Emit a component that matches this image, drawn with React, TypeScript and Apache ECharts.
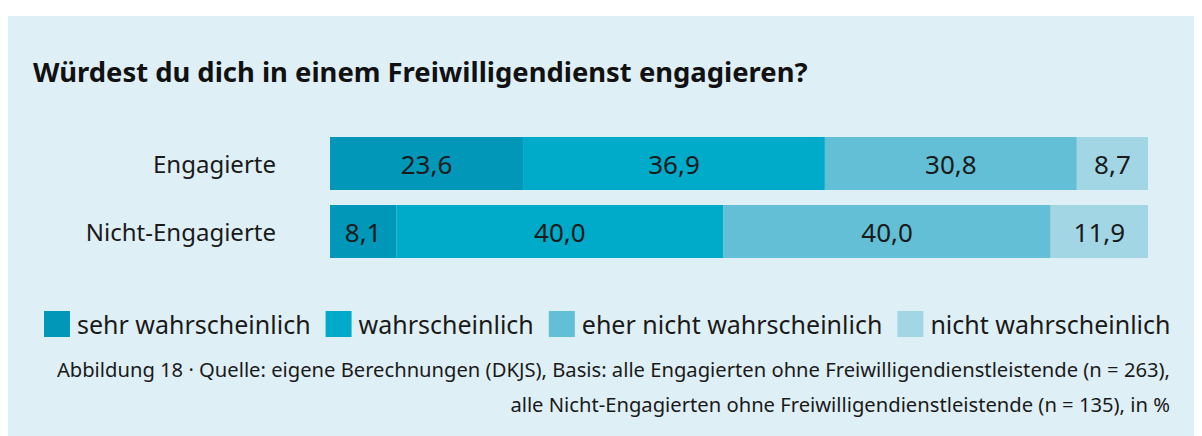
import React, { useEffect, useRef } from "react";
import * as echarts from "echarts";

const categories = ["Engagierte", "Nicht-Engagierte"];
const seriesNames = [
  "sehr wahrscheinlich",
  "wahrscheinlich",
  "eher nicht wahrscheinlich",
  "nicht wahrscheinlich",
];
const sehrWahrscheinlich = [23.6, 8.1];
const wahrscheinlich = [36.9, 40.0];
const eherNichtWahrscheinlich = [30.8, 40.0];
const nichtWahrscheinlich = [8.7, 11.9];
const colors = ["#0097b8", "#00aac9", "#62bfd6", "#a3d6e5"];

const titleText = "Würdest du dich in einem Freiwilligendienst engagieren?";
const noteLine1 =
  "Abbildung 18 · Quelle: eigene Berechnungen (DKJS), Basis: alle Engagierten ohne Freiwilligendienstleistende (n = 263),";
const noteLine2 =
  "alle Nicht-Engagierten ohne Freiwilligendienstleistende (n = 135), in %";

const FONT = "Noto Sans";

export default function App() {
  const ref = useRef<HTMLDivElement>(null);
  useEffect(() => {
    if (!ref.current) return;
    const chart = echarts.init(ref.current, null, { renderer: "svg" });
    const dataSets = [
      sehrWahrscheinlich,
      wahrscheinlich,
      eherNichtWahrscheinlich,
      nichtWahrscheinlich,
    ];
    chart.setOption({
      animation: false,
      color: colors,
      textStyle: { fontFamily: FONT },
      graphic: [
        {
          type: "rect",
          z: -10,
          shape: { x: 0, y: 8, width: 1188, height: 420 },
          style: { fill: "#dfeff6" },
        },
        {
          type: "text",
          x: 25,
          y: 63,
          style: {
            text: titleText,
            fontFamily: FONT,
            fontWeight: "bold",
            fontSize: 27.4,
            fill: "#111",
            verticalAlign: "middle",
          },
        },
        {
          type: "text",
          x: 1162,
          y: 361,
          style: {
            text: noteLine1,
            fontFamily: FONT,
            fontSize: 20.2,
            fill: "#1a1a1a",
            align: "right",
            verticalAlign: "middle",
          },
        },
        {
          type: "text",
          x: 1162,
          y: 396,
          style: {
            text: noteLine2,
            fontFamily: FONT,
            fontSize: 20.2,
            fill: "#1a1a1a",
            align: "right",
            verticalAlign: "middle",
          },
        },
      ],
      legend: {
        left: 36,
        top: 303,
        padding: 0,
        icon: "rect",
        itemWidth: 26,
        itemHeight: 26,
        itemGap: 15,
        data: seriesNames,
        textStyle: { fontFamily: FONT, fontSize: 25, color: "#1a1a1a", padding: [0, 0, 0, 2] },
      },
      grid: { left: 322, width: 818, top: 121.5, height: 136 },
      xAxis: { type: "value", min: 0, max: 100, show: false },
      yAxis: {
        type: "category",
        data: categories,
        inverse: true,
        axisLine: { show: false },
        axisTick: { show: false },
        axisLabel: { fontFamily: FONT, fontSize: 24, color: "#1a1a1a", margin: 54 },
      },
      series: seriesNames.map((name, i) => ({
        name,
        type: "bar",
        stack: "total",
        barWidth: 53,
        data: dataSets[i],
        itemStyle: { color: colors[i] },
        label: {
          show: true,
          position: "inside",
          fontFamily: FONT,
          fontSize: 26,
          color: "#1a1a1a",
          formatter: (p: any) => Number(p.value).toFixed(1).replace(".", ","),
        },
      })),
    });
    return () => chart.dispose();
  }, []);
  return <div ref={ref} style={{ width: 1188, height: 428 }} />;
}
